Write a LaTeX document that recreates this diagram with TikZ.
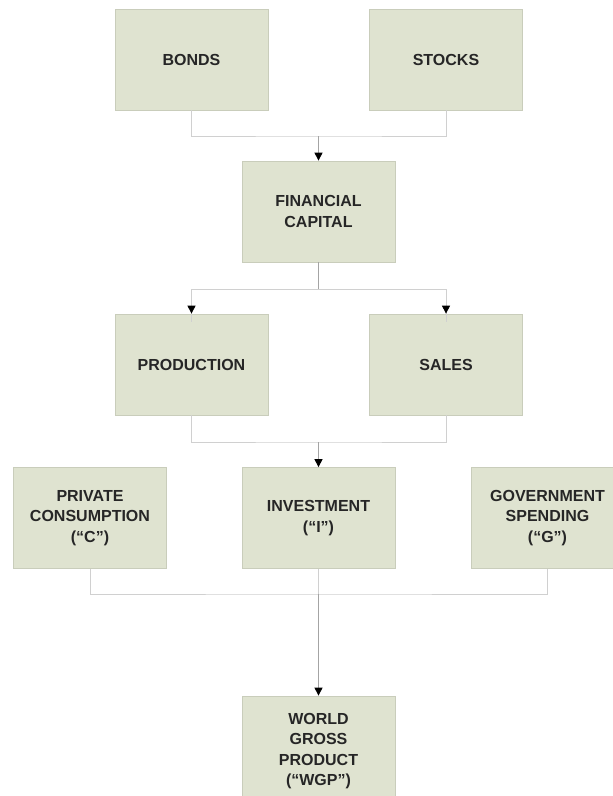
\documentclass[tikz,border=0pt]{standalone}
\usepackage{fontspec}
\setmainfont{Liberation Sans}
\usetikzlibrary{arrows.meta}
\definecolor{boxfill}{HTML}{DFE3D0}
\definecolor{boxline}{HTML}{C9CDBB}
\definecolor{branchgrey}{HTML}{D0D0D0}
\definecolor{stemgrey}{HTML}{A4A4A4}
\definecolor{textgrey}{HTML}{262626}
\tikzset{
  flowbox/.style={rectangle, draw=boxline, fill=boxfill, line width=0.75pt,
    minimum width=153pt, minimum height=101pt, inner sep=0pt, align=center,
    text=textgrey, font=\bfseries\fontsize{16}{20.5}\selectfont},
  branch/.style={draw=branchgrey, line width=0.9pt},
  stem/.style={draw=stemgrey, line width=0.9pt,
    -{Triangle[width=8pt,length=8pt,fill=black,color=black]}}
}
\begin{document}
\begin{tikzpicture}[x=1pt,y=1pt]
    \useasboundingbox (0,0) rectangle (613,-796);
    \clip (0,0) rectangle (613,-796);
    \node[flowbox] (bonds)   at (191.5,-59.5)  {BONDS};
    \node[flowbox] (stocks)  at (446,-59.5)    {STOCKS};
    \node[flowbox] (fin)     at (318.5,-211.5) {FINANCIAL\\CAPITAL};
    \node[flowbox] (prod)    at (191.5,-364.5) {PRODUCTION};
    \node[flowbox] (sales)   at (446,-364.5)   {SALES};
    \node[flowbox] (private) at (90,-518)      {PRIVATE\\CONSUMPTION\\(“C”)};
    \node[flowbox] (invest)  at (318.5,-518)   {INVESTMENT\\(“I”)};
    \node[flowbox] (gov)     at (547.5,-518)   {GOVERNMENT\\SPENDING\\(“G”)};
    \node[flowbox, minimum height=110pt] (wgp) at (318.5,-751) {WORLD\\GROSS\\PRODUCT\\(“WGP”)};
    % junctions
    \coordinate (j1) at (318.5,-136);
    \coordinate (j2) at (318.5,-289);
    \coordinate (j3) at (318.5,-442);
    \coordinate (j4) at (318.5,-594);
    % bonds + stocks -> financial capital
    \draw[branch] (bonds.south) |- (j1) -| (stocks.south);
    \draw[stem] (j1) -- (fin.north);
    % financial capital -> production, sales
    \draw[stemgrey, line width=0.9pt] (fin.south) -- (j2);
    \draw[branch] (j2) -| ([yshift=-8pt]prod.north);
    \draw[branch] (j2) -| ([yshift=-8pt]sales.north);
    \draw[stem] ([yshift=8pt]prod.north) -- (prod.north);
    \draw[stem] ([yshift=8pt]sales.north) -- (sales.north);
    % production + sales -> investment
    \draw[branch] (prod.south) |- (j3) -| (sales.south);
    \draw[stem] (j3) -- (invest.north);
    % C + I + G -> WGP
    \draw[branch] (private.south) |- (j4) -| (gov.south);
    \draw[branch] (invest.south) -- (j4);
    \draw[stem] (j4) -- (wgp.north);
\end{tikzpicture}
\end{document}
